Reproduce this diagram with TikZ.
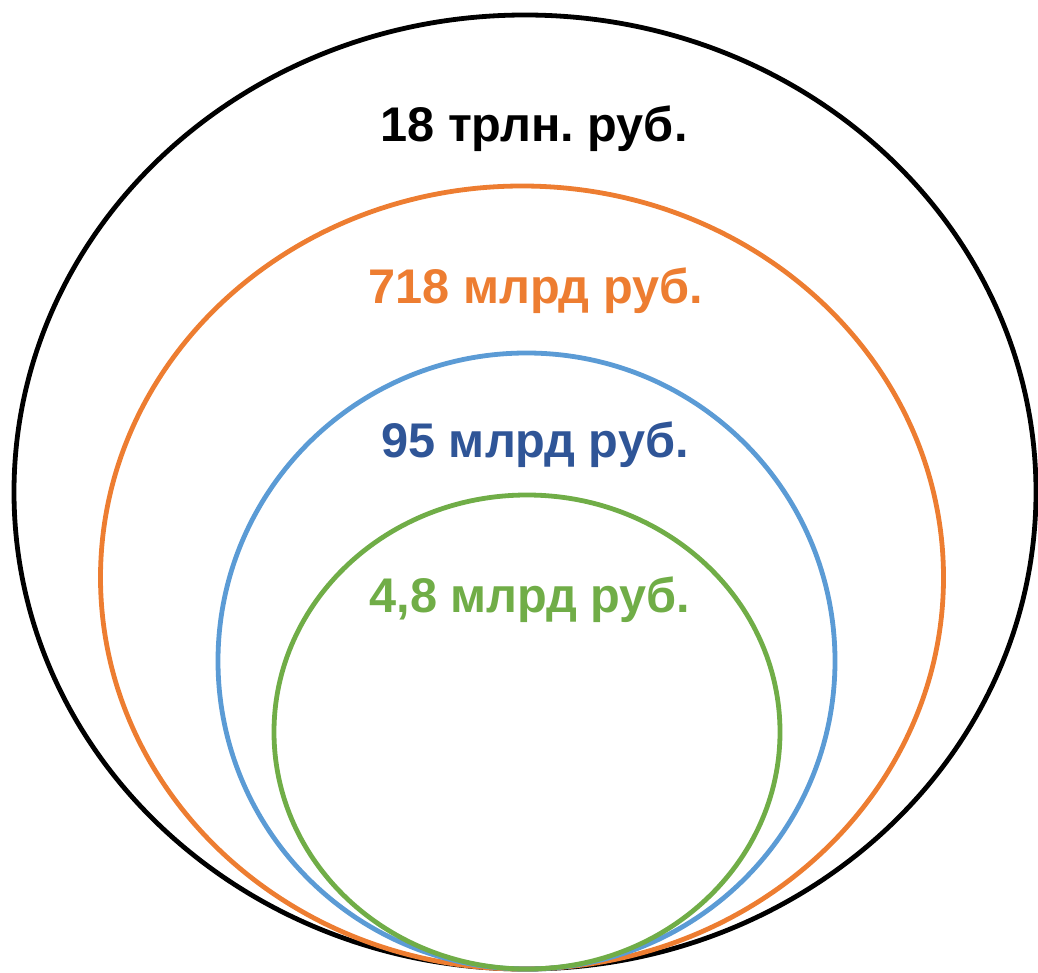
\documentclass[tikz,border=0pt]{standalone}
\usepackage{fontspec}
\setmainfont{Liberation Sans}
\frenchspacing
\definecolor{cblack}{HTML}{000000}
\definecolor{corange}{HTML}{ED7D31}
\definecolor{cblue}{HTML}{5B9BD5}
\definecolor{cbluetext}{HTML}{2F5597}
\definecolor{cgreen}{HTML}{70AD47}
\tikzset{
  ring/.style={line width=3.6pt},
  lbl/.style={font=\fontsize{36.5}{40}\selectfont\bfseries, anchor=base, inner sep=0pt}
}
\begin{document}
\begin{tikzpicture}[x=0.75pt,y=-0.75pt]
\useasboundingbox (0,0) rectangle (1038,973);
\draw[ring,cblack] (525,492) ellipse [x radius=511, y radius=477];
\draw[ring,corange] (522,577.5) ellipse [x radius=421.5, y radius=391.5];
\draw[ring,cblue] (526.5,661) ellipse [x radius=308.5, y radius=308];
\draw[ring,cgreen] (527,732) ellipse [x radius=253, y radius=237];
\node[lbl,text=cblack] (t1) at (534,142) {18 трлн.\ руб.};
\node[lbl,text=corange] (t2) at (536,304) {718 млрд руб.};
\node[lbl,text=cbluetext] (t3) at (535,457) {95 млрд руб.};
\node[lbl,text=cgreen] (t4) at (530,612) {4,8 млрд руб.};
\end{tikzpicture}
\end{document}
